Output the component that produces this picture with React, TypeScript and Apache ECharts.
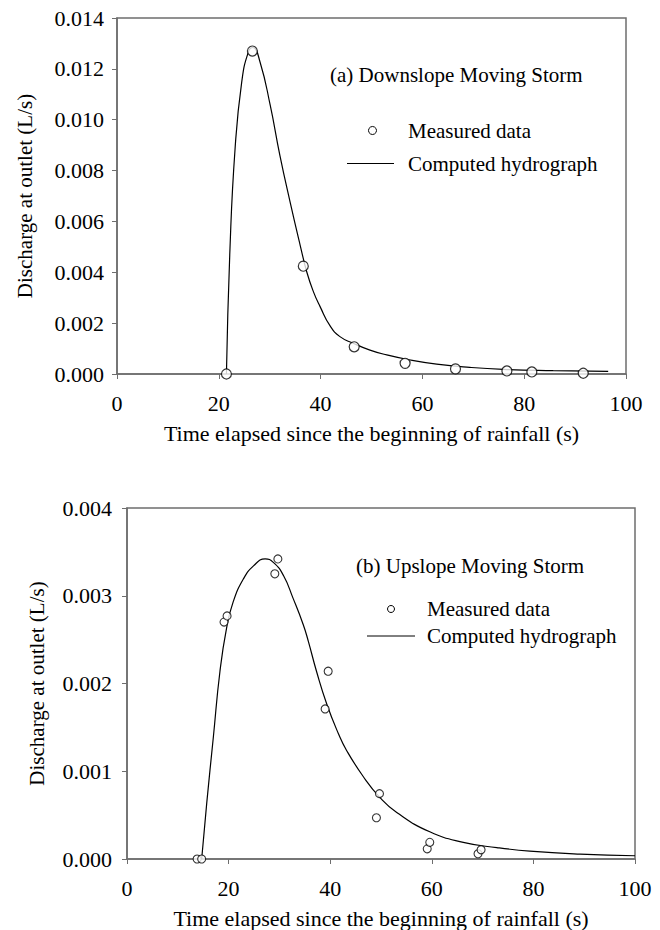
import React, { useEffect, useRef } from "react";
import * as echarts from "echarts";

// (a) Downslope moving storm: computed hydrograph
const timeA = [21.5, 22.2, 23.2, 24.5, 25.8, 26.7, 28.1, 30.1, 32.0, 34.0, 36.0, 37.3, 38.6, 39.9, 41.9, 43.8, 46.4, 49.7, 53.0, 56.9, 62.8, 69.3, 75.9, 85.7, 96.5];
const flowA = [0, 0.00495, 0.00887, 0.01148, 0.01266, 0.01284, 0.01227, 0.01057, 0.0086, 0.00677, 0.00505, 0.004, 0.00323, 0.00265, 0.00188, 0.00147, 0.00121, 0.00094, 0.00075, 0.00058, 0.00039, 0.00026, 0.00018, 0.00013, 0.0001];
// (a) measured data
const measTimeA = [21.5, 26.6, 36.6, 46.6, 56.6, 66.5, 76.6, 81.5, 91.6];
const measFlowA = [0, 0.0127, 0.00424, 0.00107, 0.00042, 0.0002, 0.00012, 0.00008, 0.00003];

// (b) Upslope moving storm: computed hydrograph
const timeB = [14.7, 15.7, 17.0, 18.3, 19.6, 20.9, 22.9, 24.9, 27.2, 28.8, 30.8, 32.7, 34.7, 35.7, 37.3, 39.3, 41.6, 43.2, 46.5, 49.8, 53.1, 59.6, 66.2, 72.8, 79.3, 89.2, 100];
const flowB = [0, 0.00064, 0.00139, 0.00214, 0.00263, 0.00293, 0.00319, 0.00334, 0.00342, 0.00338, 0.00323, 0.00297, 0.00267, 0.00248, 0.00214, 0.00177, 0.00143, 0.00124, 0.00094, 0.0007, 0.00053, 0.00031, 0.00019, 0.00013, 0.00009, 0.000056, 0.000037];
// (b) measured data
const measTimeB = [13.8, 14.7, 19.1, 19.7, 29.1, 29.7, 39.0, 39.6, 49.1, 49.7, 59.1, 59.6, 69.1, 69.7];
const measFlowB = [0, 0, 0.0027, 0.00277, 0.00325, 0.00342, 0.00171, 0.00214, 0.00047, 0.000745, 0.000116, 0.00019, 0.00006, 0.000105];

const xTitle = "Time elapsed since the beginning of rainfall (s)";
const yTitle = "Discharge at outlet (L/s)";
const titleA = "(a) Downslope Moving Storm";
const titleB = "(b) Upslope Moving Storm";
const legendNames = ["Measured data", "Computed hydrograph"];

const FONT = '"Liberation Serif", "Times New Roman", serif';
const AXIS_COLOR = "#6e6e6e";

const zip = (xs: number[], ys: number[]) => xs.map((x, i) => [x, ys[i]]);

function xAxisCfg(gridIndex: number, labelMargin: number, nameGap: number) {
  return {
    type: "value",
    gridIndex,
    min: 0,
    max: 100,
    interval: 20,
    name: xTitle,
    nameLocation: "middle",
    nameGap,
    nameTextStyle: { fontFamily: FONT, fontSize: 22, color: "#000" },
    axisLine: { show: true, onZero: false, lineStyle: { color: AXIS_COLOR, width: 1.5 } },
    axisTick: { show: true, inside: false, length: 5, lineStyle: { color: AXIS_COLOR } },
    axisLabel: { fontFamily: FONT, fontSize: 22, color: "#000", margin: labelMargin },
    splitLine: { show: false },
  };
}

function yAxisCfg(gridIndex: number, max: number, interval: number, labelMargin: number, nameGap: number) {
  return {
    type: "value",
    gridIndex,
    min: 0,
    max,
    interval,
    name: yTitle,
    nameLocation: "middle",
    nameGap,
    nameTextStyle: { fontFamily: FONT, fontSize: 21, color: "#000" },
    axisLine: { show: true, lineStyle: { color: AXIS_COLOR, width: 1.5 } },
    axisTick: { show: true, inside: false, length: 5, lineStyle: { color: AXIS_COLOR } },
    axisLabel: {
      fontFamily: FONT,
      fontSize: 22,
      color: "#000",
      margin: labelMargin,
      formatter: (v: number) => v.toFixed(3),
    },
    splitLine: { show: false },
  };
}

function legendBlock(lineX0: number, lineX1: number, circleX: number, textX: number, row1: number, row2: number, r: number) {
  return [
    {
      type: "circle",
      shape: { cx: circleX, cy: row1, r },
      style: { fill: "#fff", stroke: "#000", lineWidth: 1 },
    },
    {
      type: "text",
      x: textX,
      y: row1,
      style: { text: legendNames[0], font: `21px ${FONT}`, fill: "#000", align: "left", verticalAlign: "middle" },
    },
    {
      type: "line",
      shape: { x1: lineX0, y1: row2, x2: lineX1, y2: row2 },
      style: { stroke: "#000", lineWidth: 1 },
    },
    {
      type: "text",
      x: textX,
      y: row2,
      style: { text: legendNames[1], font: `21px ${FONT}`, fill: "#000", align: "left", verticalAlign: "middle" },
    },
  ];
}

export default function App() {
  const ref = useRef<HTMLDivElement>(null);

  useEffect(() => {
    if (!ref.current) return;
    const chart = echarts.init(ref.current, null, { renderer: "svg" });
    chart.setOption({
      animation: false,
      backgroundColor: "#fff",
      textStyle: { fontFamily: FONT },
      grid: [
        { left: 117, top: 18, width: 509, height: 356, show: true, borderColor: AXIS_COLOR, borderWidth: 1.5, backgroundColor: "transparent" },
        { left: 127, top: 508, width: 508, height: 356, show: true, borderColor: AXIS_COLOR, borderWidth: 1.5, backgroundColor: "transparent" },
      ],
      xAxis: [xAxisCfg(0, 18, 48), xAxisCfg(1, 18, 48)],
      yAxis: [yAxisCfg(0, 0.014, 0.002, 13, 82), yAxisCfg(1, 0.004, 0.001, 15, 80)],
      series: [
        {
          name: legendNames[1],
          type: "line",
          xAxisIndex: 0,
          yAxisIndex: 0,
          data: zip(timeA, flowA),
          showSymbol: false,
          symbol: "none",
          smooth: 0.5,
          lineStyle: { color: "#000", width: 1.2 },
          z: 3,
        },
        {
          name: legendNames[0],
          type: "scatter",
          xAxisIndex: 0,
          yAxisIndex: 0,
          data: zip(measTimeA, measFlowA),
          symbol: "circle",
          symbolSize: 10,
          itemStyle: { color: "#fff", borderColor: "#000", borderWidth: 1.2 },
          z: 4,
        },
        {
          name: legendNames[1],
          type: "line",
          xAxisIndex: 1,
          yAxisIndex: 1,
          data: zip(timeB, flowB),
          showSymbol: false,
          symbol: "none",
          smooth: 0.5,
          lineStyle: { color: "#000", width: 1.2 },
          z: 3,
        },
        {
          name: legendNames[0],
          type: "scatter",
          xAxisIndex: 1,
          yAxisIndex: 1,
          data: zip(measTimeB, measFlowB),
          symbol: "circle",
          symbolSize: 8,
          itemStyle: { color: "#fff", borderColor: "#000", borderWidth: 1.1 },
          z: 4,
        },
      ],
      graphic: [
        {
          type: "text",
          x: 330,
          y: 75,
          style: { text: titleA, font: `21px ${FONT}`, fill: "#000", align: "left", verticalAlign: "middle" },
        },
        ...legendBlock(347, 394, 372.5, 408, 130.5, 163.5, 4),
        {
          type: "text",
          x: 356,
          y: 566,
          style: { text: titleB, font: `21px ${FONT}`, fill: "#000", align: "left", verticalAlign: "middle" },
        },
        ...legendBlock(367, 415, 391, 427, 609, 636, 3.5),
      ],
    });
    return () => chart.dispose();
  }, []);

  return (
    <div
      ref={ref}
      style={{ position: "absolute", left: 0, top: 0, width: 660, height: 930, background: "#fff" }}
    />
  );
}
